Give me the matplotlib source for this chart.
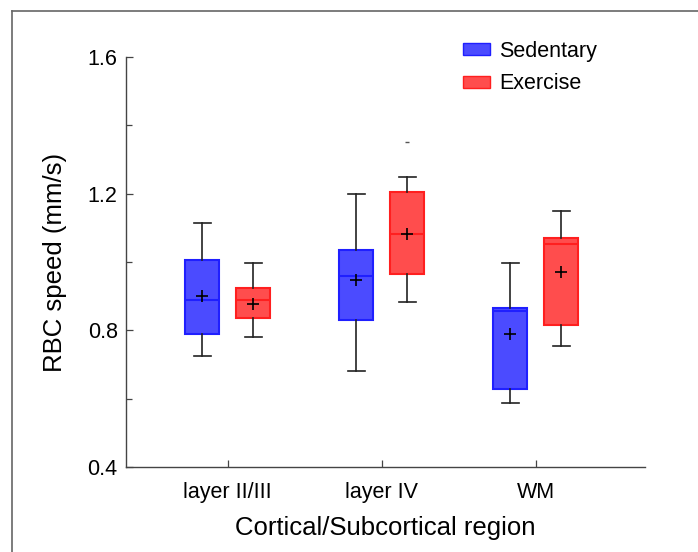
import numpy as np
import matplotlib; matplotlib.use("Agg")
import matplotlib.pyplot as plt
from matplotlib.patches import Patch
from matplotlib.lines import Line2D

regions = ["layer II/III", "layer IV", "WM"]
groups = ["Sedentary", "Exercise"]
# per region: [whislo, q1, median, q3, whishi], mean, outliers
sed_stats = [[0.724, 0.790, 0.890, 1.005, 1.113],
             [0.682, 0.831, 0.960, 1.036, 1.198],
             [0.586, 0.628, 0.858, 0.866, 0.998]]
sed_mean = [0.900, 0.948, 0.790]
sed_fliers = [[], [], []]
exe_stats = [[0.780, 0.837, 0.890, 0.923, 0.998],
             [0.882, 0.966, 1.082, 1.205, 1.250],
             [0.755, 0.815, 1.052, 1.070, 1.148]]
exe_mean = [0.877, 1.082, 0.970]
exe_fliers = [[], [1.352], []]

plt.rcParams["font.family"] = ["Liberation Sans", "DejaVu Sans"]
fig = plt.figure(figsize=(6.98, 5.52), dpi=100)
ax = fig.add_axes([126/698, 1-467/552, (645-126)/698, (467-57)/552])

# outer frame of screenshot
fig.add_artist(Line2D([12/698, 12/698], [0, 1-11/552], color="#666666", lw=1.2, transform=fig.transFigure))
fig.add_artist(Line2D([12/698, 1], [1-11/552, 1-11/552], color="#666666", lw=1.2, transform=fig.transFigure))

def mk(st, m, fl):
    return [dict(whislo=s[0], q1=s[1], med=s[2], q3=s[3], whishi=s[4], mean=mm, fliers=f)
            for s, mm, f in zip(st, m, fl)]

x = np.arange(1, len(regions)+1)
off = 0.165
for stats, pos, fc, ec in [(mk(sed_stats, sed_mean, sed_fliers), x-off, "#4b4bff", "#1f1fff"),
                           (mk(exe_stats, exe_mean, exe_fliers), x+off, "#ff4d4d", "#ff1f1f")]:
    ax.bxp(stats, positions=pos, widths=0.22, capwidths=0.11, patch_artist=True, showmeans=True,
           boxprops=dict(facecolor=fc, edgecolor=ec, lw=1.5),
           medianprops=dict(color=ec, lw=1.5),
           whiskerprops=dict(color="#222222", lw=1.2),
           capprops=dict(color="#222222", lw=1.2),
           meanprops=dict(marker="+", markeredgecolor="black", markersize=8, mew=1.2),
           flierprops=dict(marker="_", markeredgecolor="#555555", markersize=3, mew=1))

ax.set_xlim(0.34, 3.71)
ax.set_ylim(0.4, 1.6)
ax.set_xticks(x)
ax.set_xticklabels(regions)
ax.set_yticks([0.4, 0.8, 1.2, 1.6])
ax.set_yticklabels(["0.4", "0.8", "1.2", "1.6"])
ax.set_yticks([0.6, 1.0, 1.4], minor=True)
ax.tick_params(direction="in", length=5, width=0.9, color="#444444", labelsize=15.5)
ax.tick_params(axis="y", which="minor", direction="in", length=4, width=0.9, color="#444444")
ax.tick_params(axis="y", pad=6)
ax.tick_params(axis="x", pad=11)
for s in ["top", "right"]:
    ax.spines[s].set_visible(False)
for s in ["left", "bottom"]:
    ax.spines[s].set_color("#444444")
    ax.spines[s].set_linewidth(1.0)
ax.set_ylabel("RBC speed (mm/s)", fontsize=18.5, labelpad=15)
ax.set_xlabel("Cortical/Subcortical region", fontsize=18.5, labelpad=9)

handles = [Patch(facecolor="#4b4bff", edgecolor="#1f1fff", label=groups[0]),
           Patch(facecolor="#ff4d4d", edgecolor="#ff1f1f", label=groups[1])]
ax.legend(handles=handles, loc="upper left", bbox_to_anchor=(0.649, 1.040), frameon=False,
          fontsize=15.5, handlelength=1.25, handleheight=0.5, labelspacing=0.55,
          handletextpad=0.45, borderpad=0, borderaxespad=0)

fig.savefig("out.png", dpi=100)
